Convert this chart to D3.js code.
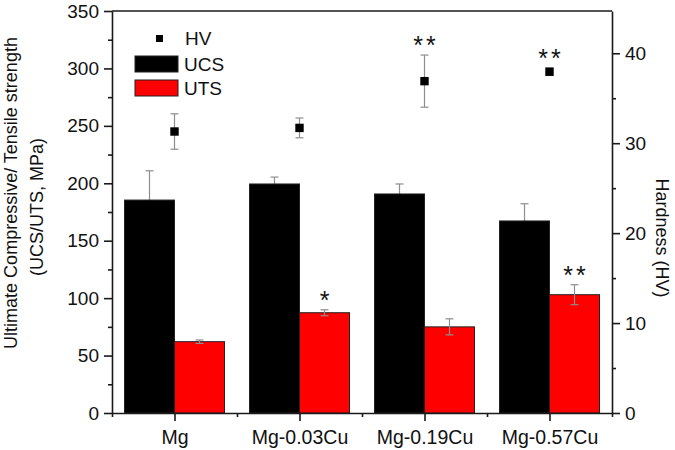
<!DOCTYPE html>
<html>
<head>
<meta charset="utf-8">
<script src="https://cdn.jsdelivr.net/npm/d3@7"></script>
<style>
	body { margin: 0; background: #fff; }
	svg text { font-family: "Liberation Sans", Arial, sans-serif; fill: #111; }
	.axis path, .axis line { stroke: #1a1a1a; stroke-width: 1.6px; }
	.axis text { font-size: 19px; }
</style>
</head>
<body>
<svg id="chart" width="675" height="450"></svg>
<script>
// chart values
var categories = ['Mg', 'Mg-0.03Cu', 'Mg-0.19Cu', 'Mg-0.57Cu'];
var ucs = [185.4, 199.4, 190.7, 167.2];
var ucsErr = [25.5, 6, 8.7, 15];
var uts = [62.1, 87.3, 75, 103];
var utsErr = [1.5, 2.6, 7, 8.7];
var hv = [31.3, 31.7, 36.9, 37.95];
var hvErr = [1.97, 1.1, 2.9, 0.4];

var leftTicks = [0, 50, 100, 150, 200, 250, 300, 350];
var leftMinor = [25, 75, 125, 175, 225, 275, 325];
var rightTicks = [0, 10, 20, 30, 40];
var rightMinor = [5, 15, 25, 35];

// significance marks: which category, which series, what text
var stars = [
	{ cat: 1, series: 'uts', text: '*' },
	{ cat: 3, series: 'uts', text: '**' },
	{ cat: 2, series: 'hv', text: '**' },
	{ cat: 3, series: 'hv', text: '**' }
];

(function () {

var svg = d3.select('#chart');
var margin = { top: 11, right: 63, bottom: 37, left: 112 };
var W = 675, H = 450;

var x = d3.scaleLinear().domain([0.5, 4.5]).range([margin.left, W - margin.right]);
var yL = d3.scaleLinear().domain([0, 350]).range([H - margin.bottom, margin.top]);
var yR = d3.scaleLinear().domain([0, 44.7]).range([H - margin.bottom, margin.top]);
var barW = x(0.4) - x(0);

// error bars
function errBar(cx, yScale, v, e) {
	var g = svg.append('g').attr('stroke', '#8e8e8e').attr('stroke-width', 1.2);
	g.append('line').attr('x1', cx).attr('x2', cx).attr('y1', yScale(v - e)).attr('y2', yScale(v + e));
	[v - e, v + e].forEach(function (t) {
		g.append('line').attr('x1', cx - 4).attr('x2', cx + 4).attr('y1', yScale(t)).attr('y2', yScale(t));
	});
}

// bars
function drawBars(vals, cls, color, offset) {
	svg.selectAll('.' + cls).data(vals).enter().append('rect')
		.attr('class', cls)
		.attr('x', function (d, i) { return x(i + 1 + offset); })
		.attr('y', function (d) { return yL(d); })
		.attr('width', barW)
		.attr('height', function (d) { return yL(0) - yL(d); })
		.attr('fill', color)
		.attr('stroke', '#222')
		.attr('stroke-width', 1);
}

// ucs error bars sit behind the black bars
ucs.forEach(function (d, i) { errBar(x(i + 1 - 0.2), yL, d, ucsErr[i]); });
drawBars(ucs, 'ucs', '#000', -0.4);
drawBars(uts, 'uts', '#ff0000', 0);
uts.forEach(function (d, i) { errBar(x(i + 1 + 0.2), yL, d, utsErr[i]); });
hv.forEach(function (d, i) { errBar(x(i + 1), yR, d, hvErr[i]); });

// hardness points
svg.selectAll('.hv').data(hv).enter().append('rect')
	.attr('class', 'hv')
	.attr('x', function (d, i) { return x(i + 1) - 4.2; })
	.attr('y', function (d) { return yR(d) - 4.2; })
	.attr('width', 8.4).attr('height', 8.4)
	.attr('fill', '#000');

// asterisks above the error bars
stars.forEach(function (s) {
	var cx, top;
	if (s.series === 'hv') { cx = x(s.cat + 1); top = yR(hv[s.cat] + hvErr[s.cat]); }
	else { cx = x(s.cat + 1.2); top = yL(uts[s.cat] + utsErr[s.cat]); }
	svg.append('text')
		.attr('x', cx + (s.text.length > 1 ? 1.5 : 0)).attr('y', top - 1)
		.attr('text-anchor', 'middle')
		.attr('font-size', 25)
		.attr('letter-spacing', s.text.length > 1 ? 3 : 0)
		.text(s.text);
});

// axes
var base = H - margin.bottom;
var bottom = svg.append('g').attr('class', 'axis').attr('transform', 'translate(0,' + base + ')');
bottom.call(d3.axisBottom(x).tickValues([0.5, 1.5, 2.5, 3.5, 4.5]).tickSize(4).tickSizeOuter(0).tickFormat(''));
var bottomMajor = svg.append('g').attr('class', 'axis').attr('transform', 'translate(0,' + base + ')');
bottomMajor.call(d3.axisBottom(x).tickValues([1, 2, 3, 4]).tickSize(8).tickSizeOuter(0)
	.tickFormat(function (d) { return categories[d - 1]; }));
bottomMajor.select('.domain').remove();
bottomMajor.selectAll('text').attr('dy', 0).attr('y', 31).style('font-size', '19.5px');

var left = svg.append('g').attr('class', 'axis').attr('transform', 'translate(' + margin.left + ',0)');
left.call(d3.axisLeft(yL).tickValues(leftTicks).tickSize(8).tickSizeOuter(0).tickPadding(5));
svg.append('g').attr('class', 'axis').attr('transform', 'translate(' + margin.left + ',0)')
	.call(d3.axisLeft(yL).tickValues(leftMinor).tickSize(4).tickFormat(''))
	.select('.domain').remove();

var right = svg.append('g').attr('class', 'axis').attr('transform', 'translate(' + (W - margin.right) + ',0)');
right.call(d3.axisRight(yR).tickValues(rightTicks).tickSize(8).tickSizeOuter(0).tickPadding(5));
svg.append('g').attr('class', 'axis').attr('transform', 'translate(' + (W - margin.right) + ',0)')
	.call(d3.axisRight(yR).tickValues(rightMinor).tickSize(4).tickFormat(''))
	.select('.domain').remove();

// top frame line
svg.append('line')
	.attr('x1', margin.left).attr('x2', W - margin.right)
	.attr('y1', margin.top).attr('y2', margin.top)
	.attr('stroke', '#1a1a1a').attr('stroke-width', 1.6);

// axis titles
svg.append('text')
	.attr('transform', 'translate(17,193) rotate(-90)')
	.attr('text-anchor', 'middle').attr('font-size', 18)
	.text('Ultimate Compressive/ Tensile strength');
svg.append('text')
	.attr('transform', 'translate(43,207) rotate(-90)')
	.attr('text-anchor', 'middle').attr('font-size', 18)
	.text('(UCS/UTS, MPa)');
svg.append('text')
	.attr('transform', 'translate(656,238) rotate(90)')
	.attr('text-anchor', 'middle').attr('font-size', 18)
	.text('Hardness (HV)');

// legend
var legend = svg.append('g').attr('font-size', 19);
legend.append('rect').attr('x', 156).attr('y', 35).attr('width', 7).attr('height', 7).attr('fill', '#000');
legend.append('text').attr('x', 185).attr('y', 44.5).text('HV');
legend.append('rect').attr('x', 135).attr('y', 56).attr('width', 43).attr('height', 16)
	.attr('fill', '#000').attr('stroke', '#222');
legend.append('text').attr('x', 184).attr('y', 71).text('UCS');
legend.append('rect').attr('x', 135).attr('y', 80).attr('width', 43).attr('height', 16)
	.attr('fill', '#ff0000').attr('stroke', '#222');
legend.append('text').attr('x', 184).attr('y', 95).text('UTS');

})();
</script>
</body>
</html>
